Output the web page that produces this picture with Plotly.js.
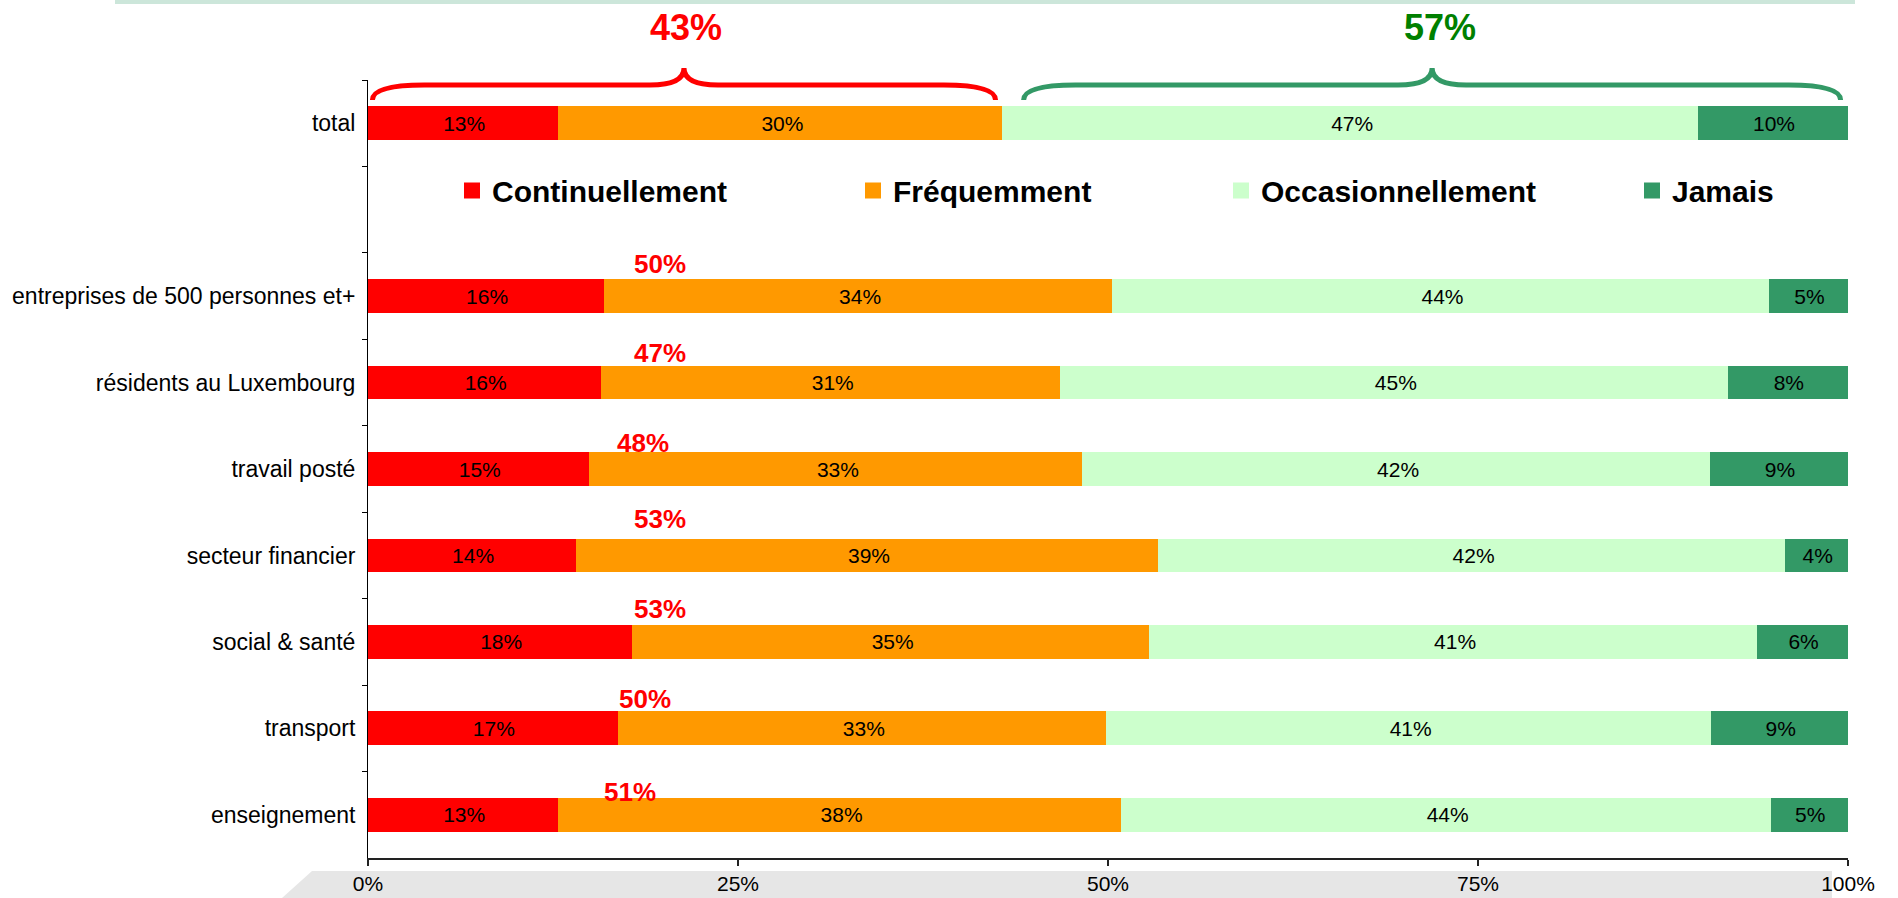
<!DOCTYPE html>
<html><head><meta charset="utf-8">
<script src="https://cdn.plot.ly/plotly-3.0.1.min.js"></script>
<style>html,body{margin:0;padding:0;background:#fff}#chart{width:1898px;height:898px}</style>
</head><body><div id="chart"></div>
<script>
// ---- data ----
const categories = ['total', ' ', 'entreprises de 500 personnes et+', 'résidents au Luxembourg', 'travail posté', 'secteur financier', 'social & santé', 'transport', 'enseignement'];
const seriesNames = ['Continuellement', 'Fréquemment', 'Occasionnellement', 'Jamais'];
const continuellement   = [13.0, null, 16.1, 15.9, 15.1, 14.2, 18.0, 17.0, 13.0];
const frequemment       = [30.0, null, 34.3, 31.0, 33.3, 39.3, 34.9, 33.0, 38.0];
const occasionnellement = [47.0, null, 44.4, 45.1, 42.4, 42.4, 41.1, 40.9, 43.9];
const jamais            = [10.0, null,  5.2,  8.0,  9.2,  4.1,  6.0,  9.1,  5.1];
const groupTotals = [50, 47, 48, 53, 53, 50, 51];   // red labels above sub-group bars
const totalSplit = [43, 57];                          // labels above the braces
const xTicks = [0, 25, 50, 75, 100];
const xTickLabels = ['0%', '25%', '50%', '75%', '100%'];

// ---- layout helpers (positions / styles) ----
const F = 'Arial, "Liberation Sans", sans-serif';
const colors = ['#ff0000', '#ff9900', '#ccffcc', '#339966'];
const L = 368, R = 1848, T = 80, B = 858;
const px2x = p => (p - L) / (R - L);
const px2y = p => (B - p) / (B - T);
const groupLabelX = [19.7, 19.7, 18.6, 19.7, 19.7, 18.7, 17.7];
const groupLabelShift = [32, 30, 26, 36, 33, 29, 23];
const legendTextStart = [492, 893, 1261, 1672];
const legendIds = ['legend', 'legend2', 'legend3', 'legend4'];

const series = [continuellement, frequemment, occasionnellement, jamais];
const traces = series.map((vals, i) => ({
  type: 'bar', orientation: 'h', name: seriesNames[i],
  x: vals, y: categories,
  marker: {color: colors[i], line: {color: colors[i], width: 4}},
  texttemplate: '%{x:.0f}%', textposition: 'inside', insidetextanchor: 'middle',
  textangle: 0, constraintext: 'none',
  textfont: {family: F, size: 21, color: '#000'},
  legend: legendIds[i], hoverinfo: 'x+y'
}));

function brace(x0, x1, color) {
  const xp = (x0 + x1) / 2, e = 3.5, p = 2.3;
  const yb = px2y(100), yh = px2y(85), yt = px2y(68);
  return {
    type: 'path', xref: 'x', yref: 'paper', layer: 'above',
    path: `M${x0},${yb} Q${x0},${yh} ${x0 + e},${yh} L${xp - p},${yh} Q${xp},${yh} ${xp},${yt} Q${xp},${yh} ${xp + p},${yh} L${x1 - e},${yh} Q${x1},${yh} ${x1},${yb}`,
    line: {color: color, width: 5}
  };
}

const shapes = [
  {type: 'path', xref: 'paper', yref: 'paper', layer: 'below',
   path: `M${px2x(312)},${px2y(871)} L${px2x(1832)},${px2y(871)} L${px2x(1832)},${px2y(898)} L${px2x(282)},${px2y(898)} Z`,
   fillcolor: '#e6e6e6', line: {width: 0}},
  {type: 'rect', xref: 'paper', yref: 'paper', layer: 'below',
   x0: px2x(115), x1: px2x(1855), y0: px2y(4), y1: px2y(0),
   fillcolor: '#cce6da', line: {width: 0}},
  brace(0.3, totalSplit[0] - 0.6, '#ff0000'),
  brace(totalSplit[0] + 1.3, 99.5, '#339966')
];

const annotations = [
  {xref: 'x', yref: 'paper', x: totalSplit[0] / 2, y: px2y(27), text: totalSplit[0] + '%',
   showarrow: false, xanchor: 'center', yanchor: 'middle',
   font: {family: F, size: 36, weight: 'bold', color: '#ff0000'}},
  {xref: 'x', yref: 'paper', x: (totalSplit[0] + 100) / 2 + 0.9, y: px2y(27), text: totalSplit[1] + '%',
   showarrow: false, xanchor: 'center', yanchor: 'middle',
   font: {family: F, size: 36, weight: 'bold', color: '#008000'}}
];
groupTotals.forEach((v, i) => {
  annotations.push({
    xref: 'x', yref: 'y', x: groupLabelX[i], y: categories[i + 2], yshift: groupLabelShift[i],
    text: v + '%', showarrow: false, xanchor: 'center', yanchor: 'middle',
    font: {family: F, size: 26, weight: 'bold', color: '#ff0000'}
  });
});

const layout = {
  width: 1898, height: 898,
  margin: {l: L, r: 1898 - R, t: T, b: 898 - B, pad: 0},
  barmode: 'stack', bargap: 0.655,
  paper_bgcolor: '#ffffff', plot_bgcolor: '#ffffff',
  font: {family: F, color: '#000'},
  xaxis: {range: [0, 100], tickvals: xTicks, ticktext: xTickLabels, showgrid: false, zeroline: false,
          showline: true, linecolor: '#222', linewidth: 2, ticks: 'outside', ticklen: 6, tickwidth: 1.5,
          tickcolor: '#222', tickfont: {family: F, size: 21, color: '#000'}, ticklabelstandoff: 0, fixedrange: true},
  yaxis: {type: 'category', categoryorder: 'array', categoryarray: categories, autorange: 'reversed',
          showline: true, linecolor: '#000', linewidth: 1, ticks: 'outside', ticklen: 5, tickson: 'boundaries',
          tickcolor: '#000', tickfont: {family: F, size: 23, color: '#000'}, ticklabelstandoff: 7,
          showgrid: false, zeroline: false, fixedrange: true},
  showlegend: true,
  shapes: shapes,
  annotations: annotations
};
legendIds.forEach((id, i) => {
  layout[id] = {
    x: px2x(legendTextStart[i] - 40), xanchor: 'left', y: px2y(190.5), yanchor: 'middle',
    orientation: 'h', bgcolor: 'rgba(0,0,0,0)', borderwidth: 0,
    font: {family: F, size: 30, weight: 'bold', color: '#000'},
    itemclick: false, itemdoubleclick: false
  };
});

Plotly.newPlot('chart', traces, layout, {displayModeBar: false, staticPlot: false});
</script>
</body></html>
